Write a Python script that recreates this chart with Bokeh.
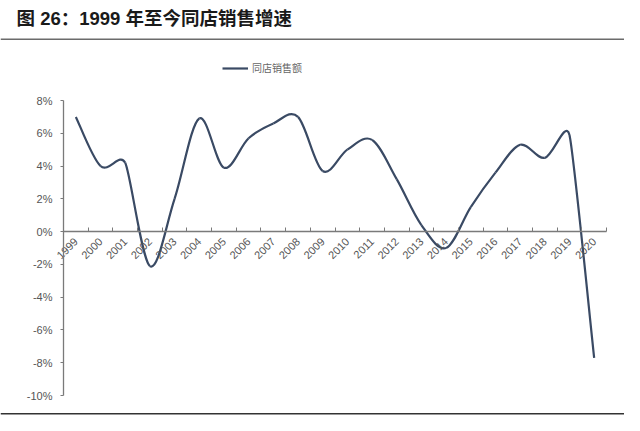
import numpy as np
from bokeh.plotting import figure
from bokeh.models import (Range1d, FixedTicker, Label, BoxAnnotation, Legend,
                          LegendItem, ColumnDataSource)
from bokeh.embed import file_html
from bokeh.resources import INLINE

# ---------------- data ----------------
years = ["1999", "2000", "2001", "2002", "2003", "2004", "2005", "2006",
         "2007", "2008", "2009", "2010", "2011", "2012", "2013", "2014",
         "2015", "2016", "2017", "2018", "2019", "2020"]
same_store_growth = [7.0, 4.0, 4.2, -2.1, 2.0, 6.9, 3.9, 5.7, 6.6, 7.0, 3.7,
                     5.0, 5.6, 3.2, 0.4, -1.0, 1.5, 3.6, 5.3, 4.5, 5.9, -7.7]
y_tick_values = [-10, -8, -6, -4, -2, 0, 2, 4, 6, 8]
y_tick_labels = ["-10%", "-8%", "-6%", "-4%", "-2%", "0%", "2%", "4%", "6%", "8%"]
title_text = "图 26：1999 年至今同店销售增速"
series_name = "同店销售额"

# ---------------- layout (pixels) ----------------
W, H = 624, 415
AX_L, AX_R, AX_T, AX_B = 63, 606, 100, 395   # plotting area on the canvas
n = len(years)
Y0, Y1 = -10, 8
kx = (AX_R - AX_L) / n
ky = (AX_B - AX_T) / (Y1 - Y0)
x_range = Range1d(-AX_L / kx, n + (W - AX_R) / kx)
y_range = Range1d(Y0 - (H - AX_B) / ky, Y1 + AX_T / ky)

LINE_COLOR = "#3a4a64"
AXIS_COLOR = "#7a7a7a"
LABEL_COLOR = "#555555"
CJK = "Liberation Sans, Noto Sans CJK SC"

p = figure(width=W, height=H, output_backend="svg", toolbar_location=None,
           x_range=x_range, y_range=y_range, min_border=0)
p.outline_line_color = None
p.xgrid.visible = False
p.ygrid.visible = False
p.background_fill_color = "white"
p.border_fill_color = "white"

# ---------------- smoothed line (Bezier between data points) ----------------
xc = np.arange(n) + 0.5
yv = np.array(same_store_growth, dtype=float)
P = np.column_stack([xc * kx, yv * ky])
T = np.zeros_like(P)
for i in range(n):
    a = P[max(i - 1, 0)]
    b = P[min(i + 1, n - 1)]
    t = (b - a) / 6.0
    L = np.hypot(*t)
    ds = [np.hypot(*(P[i] - a)), np.hypot(*(b - P[i]))]
    lim = min(d / 2 for d in ds if d > 0)
    if L > lim:
        t = t * lim / L
    T[i] = t
C0 = P[:-1] + T[:-1]
C1 = P[1:] - T[1:]
src = ColumnDataSource(dict(
    x0=xc[:-1], y0=yv[:-1], x1=xc[1:], y1=yv[1:],
    cx0=C0[:, 0] / kx, cy0=C0[:, 1] / ky,
    cx1=C1[:, 0] / kx, cy1=C1[:, 1] / ky))
curve = p.bezier(x0="x0", y0="y0", x1="x1", y1="y1", cx0="cx0", cy0="cy0",
                 cx1="cx1", cy1="cy1", source=src, line_color=LINE_COLOR,
                 line_width=2.2)

# ---------------- axes ----------------
xa = p.xaxis[0]
xa.fixed_location = 0
xa.bounds = (0, n)
xa.ticker = FixedTicker(ticks=list(xc), minor_ticks=list(range(n + 1)))
xa.major_label_overrides = {float(x): y for x, y in zip(xc, years)}
xa.major_label_orientation = np.pi / 4
xa.major_tick_in = 0
xa.major_tick_out = 0
xa.minor_tick_in = 4
xa.minor_tick_out = 0
xa.minor_tick_line_color = AXIS_COLOR
xa.axis_line_color = AXIS_COLOR
xa.axis_line_width = 1.3
xa.major_label_text_font = "Liberation Sans"
xa.major_label_text_font_size = "11px"
xa.major_label_text_color = LABEL_COLOR
xa.major_label_standoff = 8

ya = p.yaxis[0]
ya.fixed_location = 0
ya.bounds = (Y0, Y1)
ya.ticker = FixedTicker(ticks=y_tick_values, minor_ticks=[])
ya.major_label_overrides = {v: s for v, s in zip(y_tick_values, y_tick_labels)}
ya.major_tick_in = 0
ya.major_tick_out = 3
ya.major_tick_line_color = AXIS_COLOR
ya.axis_line_color = AXIS_COLOR
ya.axis_line_width = 1.3
ya.major_label_text_font = "Liberation Sans"
ya.major_label_text_font_size = "11px"
ya.major_label_text_color = LABEL_COLOR
ya.major_label_standoff = 8

# ---------------- legend ----------------
legend = Legend(items=[LegendItem(label=series_name, renderers=[curve])],
                location=(222, H - 75), padding=0, margin=0,
                border_line_color=None, background_fill_alpha=0,
                glyph_width=26, glyph_height=12, label_standoff=4,
                label_text_font=CJK, label_text_font_size="10px",
                label_text_color="#666666", label_height=12)
p.add_layout(legend, "center")

# ---------------- title and rules ----------------
p.add_layout(Label(x=16, y=7, x_units="canvas", y_units="canvas", text=title_text,
                   text_font=CJK, text_font_style="bold", text_font_size="18.5px",
                   text_color="#1a1a1a", text_baseline="top", text_align="left"))
p.add_layout(BoxAnnotation(left=0, right=W, top=38, bottom=39.6,
                           left_units="canvas", right_units="canvas",
                           top_units="canvas", bottom_units="canvas",
                           fill_color="#6b6b6b", fill_alpha=1, line_color=None))
p.add_layout(BoxAnnotation(left=0, right=W, top=412.5, bottom=414,
                           left_units="canvas", right_units="canvas",
                           top_units="canvas", bottom_units="canvas",
                           fill_color="#333333", fill_alpha=1, line_color=None))

open("out.html", "w").write(file_html(p, INLINE))
